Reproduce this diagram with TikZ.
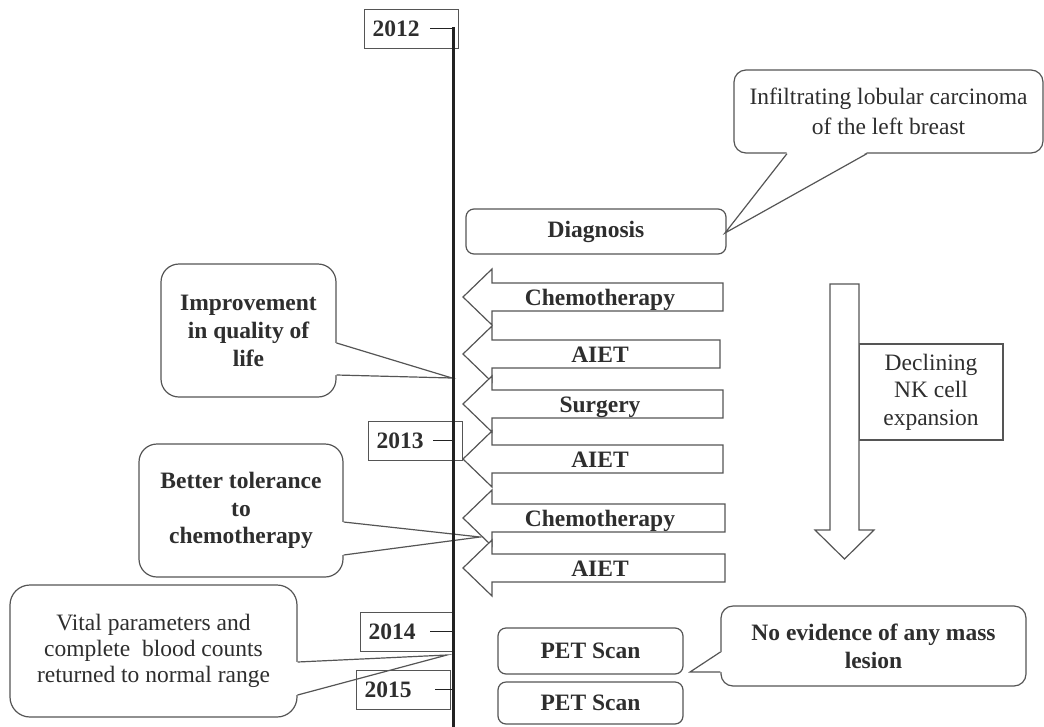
\documentclass[tikz,border=0pt]{standalone}
\usepackage{fontspec}
\setmainfont{Liberation Serif}
\usetikzlibrary{calc}
\definecolor{inkText}{HTML}{2E2E2E}
\definecolor{inkLine}{HTML}{555555}
\definecolor{inkAxis}{HTML}{222222}
\newcommand{\tlfont}{\fontsize{23.5}{28}\selectfont}
\newcommand{\tlbold}{\fontsize{23.5}{28}\selectfont\bfseries}

\begin{document}
\begin{tikzpicture}[
  x=1pt,y=-1pt,font=\tlfont,text=inkText,
  yearbox/.style={draw=inkLine,line width=1pt,anchor=west,minimum height=39pt,text width=78pt,inner xsep=8pt,align=left,font=\tlbold},
  tickline/.style={draw=inkAxis,line width=1.6pt},
  axisline/.style={draw=inkAxis,line width=3pt,line cap=rect},
  roundbox/.style={draw=inkLine,line width=1.2pt,fill=white,rounded corners=8pt,align=center,font=\tlbold},
  callout/.style={draw=inkLine,line width=1.2pt,fill=white,align=center},
  plainbox/.style={draw=inkLine,line width=1.2pt,fill=white,align=center},
  treatarrow/.style={draw=inkLine,line width=1.2pt,fill=white,line join=miter},
  treatlbl/.style={anchor=base,font=\tlbold},
  pointer/.style={draw=inkLine,line width=1.2pt,line join=miter}
]
\useasboundingbox (0,0) rectangle (1044,726);

% left-hand callouts
\node[callout,rounded corners=18pt,minimum width=175pt,minimum height=133pt,font=\tlbold] (impr) at (248.5,330.5) {Improvement\\in quality of\\life};
\node[callout,rounded corners=18pt,minimum width=204pt,minimum height=133pt,font=\fontsize{23.5}{27.5}\selectfont\bfseries] (toler) at (241,510.5) {Better tolerance\\to\\chemotherapy};
\node[callout,rounded corners=20pt,minimum width=287pt,minimum height=132pt,font=\fontsize{23.5}{26}\selectfont] (vital) at (153.5,651) {Vital parameters and\\complete\ \ blood counts\\returned to normal range};
\coordinate (imprtip) at (452,378);
\coordinate (tolertip) at (480,537);
\coordinate (vitaltip) at (447,655);
\fill[white] ($(impr.east |- 0,343)+(-1.5,0)$) -- (imprtip) -- ($(impr.east |- 0,375)+(-1.5,0)$) -- cycle;
\draw[pointer] (impr.east |- 0,343) -- (imprtip) -- (impr.east |- 0,375);
\fill[white] ($(toler.east |- 0,522)+(-1.5,0)$) -- (tolertip) -- ($(toler.east |- 0,555)+(-1.5,0)$) -- cycle;
\draw[pointer] (toler.east |- 0,522) -- (tolertip) -- (toler.east |- 0,555);
\fill[white] ($(vital.east |- 0,662)+(-1.5,0)$) -- (vitaltip) -- ($(vital.east |- 0,695)+(-1.5,0)$) -- cycle;
\draw[pointer] (vital.east |- 0,662) -- (vitaltip) -- (vital.east |- 0,695);

% years and timeline
\coordinate (tltop) at (453,28.5);
\coordinate (tlbot) at (453,726);
\foreach \yr/\bx/\by/\tk in {2012/364/28.5/66, 2013/368/440.5/65, 2014/360/631.5/70, 2015/356/689.5/79}{
  \node[yearbox] (y\yr) at (\bx,\by) {\yr};
  \draw[tickline] ([xshift=\tk pt]y\yr.west) -- (y\yr.west -| tltop);
}
\draw[axisline] (tltop) -- (tlbot);

% treatment arrows
\foreach \ay/\ax/\lbl/\nm in {297/723/Chemotherapy/chemoA, 354/720/AIET/aietA, 404/723/Surgery/surg, 459/723/AIET/aietB, 518/725/Chemotherapy/chemoB, 568/725/AIET/aietC}{
  \draw[treatarrow] (463,\ay) -- (492,\ay-28) -- (492,\ay-14) -- (\ax,\ay-14) -- (\ax,\ay+14) -- (492,\ay+14) -- (492,\ay+28) -- cycle;
  \node[treatlbl] (\nm) at (600,\ay+8.5) {\lbl};
}

% right-hand side
\node[roundbox,minimum width=260pt,minimum height=45pt] (diag) at (596,231.5) {Diagnosis};
\node[callout,rounded corners=12pt,minimum width=309pt,minimum height=83pt,font=\fontsize{23.5}{30}\selectfont] (infl) at (888.5,111.5) {Infiltrating lobular carcinoma\\of the left breast};
\coordinate (infltip) at (725,233);
\fill[white] ($(787,0 |- infl.south)+(0,-1.5)$) -- (infltip) -- ($(867,0 |- infl.south)+(0,-1.5)$) -- cycle;
\draw[pointer] (787,0 |- infl.south) -- (infltip) -- (867,0 |- infl.south);

\node[plainbox,minimum width=144pt,minimum height=96pt,font=\fontsize{23.5}{27.5}\selectfont] (nkdecl) at (931,392) {Declining\\NK cell\\expansion};
\draw[treatarrow] (830,284) -- (859,284) -- (859,530) -- (874,530) -- (844.5,559) -- (815,530) -- (830,530) -- cycle;

\node[roundbox,minimum width=185pt,minimum height=46pt] (petA) at (590.5,651) {PET Scan};
\node[roundbox,minimum width=185pt,minimum height=42pt] (petB) at (590.5,703) {PET Scan};
\node[callout,rounded corners=12pt,minimum width=305pt,minimum height=80pt,font=\tlbold] (noev) at (873.5,646) {No evidence of any mass\\lesion};
\coordinate (noevtip) at (690,672);
\fill[white] ($(noev.west |- 0,652)+(1.5,0)$) -- (noevtip) -- ($(noev.west |- 0,672)+(1.5,0)$) -- cycle;
\draw[pointer] (noev.west |- 0,652) -- (noevtip) -- (noev.west |- 0,672);
\end{tikzpicture}
\end{document}
